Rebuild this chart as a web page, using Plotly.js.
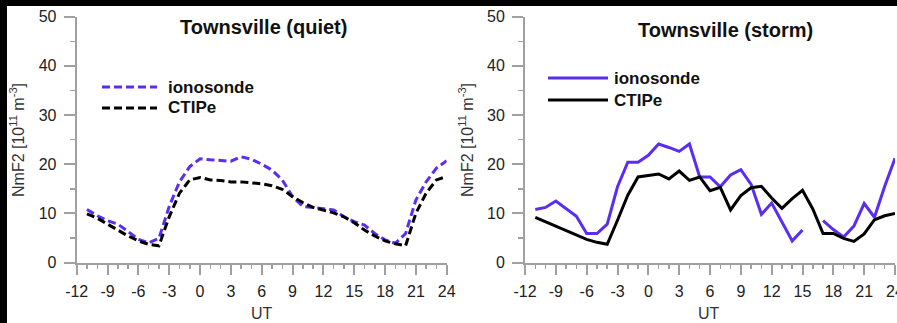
<!DOCTYPE html>
<html><head><meta charset="utf-8">
<script src="https://cdn.plot.ly/plotly-3.0.1.min.js"></script>
<style>html,body{margin:0;padding:0;background:#fff;}#c{width:897px;height:323px;}</style>
</head><body><div id="c"></div>
<script>
const hours = [-11,-10,-9,-8,-7,-6,-5,-4,-3,-2,-1,0,1,2,3,4,5,6,7,8,9,10,11,12,13,14,15,16,17,18,19,20,21,22,23,24];
const quietIono = [10.8,9.5,8.5,7.8,6.3,4.7,4.0,4.9,11.4,16.4,19.5,21.1,20.9,20.8,20.6,21.5,21.0,20.0,18.8,16.8,13.4,11.4,11.2,11.0,10.7,9.3,8.3,7.6,5.9,4.6,3.9,5.9,12.7,16.4,19.2,20.7];
const quietCtipe = [9.9,9.0,7.8,6.6,5.4,4.4,3.7,3.4,9.3,14.1,16.8,17.3,16.8,16.7,16.4,16.4,16.2,16.0,15.6,14.9,13.4,12.2,11.2,10.7,10.1,9.3,8.1,6.6,5.4,4.4,3.8,3.4,10.0,14.1,16.8,17.5];
const stormIono = [10.8,11.2,12.5,11.0,9.4,5.9,5.9,7.8,15.4,20.4,20.4,21.8,24.1,23.4,22.6,24.1,17.4,17.4,15.4,17.8,18.9,15.9,9.8,12.1,8.3,4.4,6.6,null,8.5,6.7,5.2,7.4,12.0,9.2,15.5,21.2];
const stormCtipe = [9.2,8.3,7.4,6.4,5.5,4.7,4.1,3.7,8.6,13.7,17.4,17.7,18.0,17.0,18.6,16.7,17.4,14.6,15.3,10.7,13.6,15.2,15.5,13.1,11.0,13.0,14.7,10.9,5.9,5.9,4.9,4.3,5.8,8.7,9.5,10.0];
const seriesNames = ['ionosonde','CTIPe'];
const panelTitles = ['Townsville (quiet)','Townsville (storm)'];
const xTickVals = [-12,-9,-6,-3,0,3,6,9,12,15,18,21,24];
const yTickVals = [0,10,20,30,40,50];

const purple = '#5a2df2';
const W = 897, H = 323;
const px = v => v / W, py = v => 1 - v / H;
const FONT = 'Liberation Sans, Arial, sans-serif';

const traces = [
  {x: hours, y: quietIono, name: seriesNames[0], xaxis:'x', yaxis:'y', mode:'lines', line:{color:purple, width:3, dash:'8px,4px'}},
  {x: hours, y: quietCtipe, name: seriesNames[1], xaxis:'x', yaxis:'y', mode:'lines', line:{color:'#000', width:3, dash:'8px,4px'}},
  {x: hours, y: stormIono, name: seriesNames[0], xaxis:'x2', yaxis:'y2', mode:'lines', line:{color:purple, width:3}, connectgaps:false},
  {x: hours, y: stormCtipe, name: seriesNames[1], xaxis:'x2', yaxis:'y2', mode:'lines', line:{color:'#000', width:3}}
];

const tickFont = {family:FONT, size:16, color:'#222'};
function xax(domain, anchor){
  return {domain:domain, anchor:anchor, range:[-12,24], tickvals:xTickVals, ticktext:xTickVals.map(String),
    showgrid:false, zeroline:false, showline:true, linecolor:'#a0a0a0', linewidth:2,
    ticks:'outside', ticklen:10, tickwidth:2, tickcolor:'#a0a0a0', tickfont:tickFont, ticklabelstandoff:3,
    minor:{dtick:1, tick0:0, ticks:'outside', ticklen:4, tickwidth:1.5, tickcolor:'#a0a0a0'}};
}
function yax(domain, anchor){
  return {domain:domain, anchor:anchor, range:[0,50], tickvals:yTickVals, ticktext:yTickVals.map(String),
    showgrid:false, zeroline:false, showline:true, linecolor:'#a0a0a0', linewidth:2,
    ticks:'outside', ticklen:11, tickwidth:2, tickcolor:'#a0a0a0', tickfont:tickFont, ticklabelstandoff:4,
    minor:{dtick:5, tick0:0, ticks:'outside', ticklen:5, tickwidth:1.5, tickcolor:'#a0a0a0'}};
}
const ydom = [py(262.5), py(16.7)];
function ann(text, x, y, opts){
  return Object.assign({text:text, xref:'paper', yref:'paper', x:px(x), y:py(y), xanchor:'center', yanchor:'middle', showarrow:false,
    font:{family:FONT, size:16, color:'#222'}}, opts||{});
}
const titleFont = {family:FONT, size:20, color:'#111'};
const legFont = {family:FONT, size:17, color:'#111'};
const layout = {
  width:W, height:H, margin:{l:0,r:0,t:0,b:0}, paper_bgcolor:'#fff', plot_bgcolor:'#fff',
  showlegend:false,
  xaxis: xax([px(76.7), px(446.7)], 'y'),
  yaxis: yax(ydom, 'x'),
  xaxis2: xax([px(525), px(895)], 'y2'),
  yaxis2: yax(ydom, 'x2'),
  shapes: [
    {type:'rect', xref:'paper', yref:'paper', x0:0, x1:px(7), y0:0, y1:1, fillcolor:'#000', line:{width:0}, layer:'above'},
    {type:'rect', xref:'paper', yref:'paper', x0:0, x1:1, y0:py(6), y1:1, fillcolor:'#000', line:{width:0}, layer:'above'},
    {type:'line', xref:'paper', yref:'paper', x0:px(102), x1:px(157), y0:py(87), y1:py(87), line:{color:purple, width:3, dash:'8px,4px'}},
    {type:'line', xref:'paper', yref:'paper', x0:px(102), x1:px(157), y0:py(108), y1:py(108), line:{color:'#000', width:3, dash:'8px,4px'}},
    {type:'line', xref:'paper', yref:'paper', x0:px(548), x1:px(608), y0:py(78), y1:py(78), line:{color:purple, width:3}},
    {type:'line', xref:'paper', yref:'paper', x0:px(548), x1:px(608), y0:py(100), y1:py(100), line:{color:'#000', width:3}}
  ],
  annotations: [
    ann('<b>'+panelTitles[0]+'</b>', 263, 27, {font:titleFont}),
    ann('<b>'+panelTitles[1]+'</b>', 725, 30, {font:titleFont}),
    ann('<b>'+seriesNames[0]+'</b>', 166, 87, {xanchor:'left', font:legFont}),
    ann('<b>'+seriesNames[1]+'</b>', 166, 108, {xanchor:'left', font:legFont}),
    ann('<b>'+seriesNames[0]+'</b>', 612, 78, {xanchor:'left', font:legFont}),
    ann('<b>'+seriesNames[1]+'</b>', 612, 100, {xanchor:'left', font:legFont}),
    ann('NmF2 [10<sup>11</sup> m<sup>-3</sup>]', 17, 140, {textangle:-90, font:{family:FONT, size:16, color:'#333'}}),
    ann('NmF2 [10<sup>11</sup> m<sup>-3</sup>]', 466, 140, {textangle:-90, font:{family:FONT, size:16, color:'#333'}}),
    ann('UT', 262, 313, {font:{family:FONT, size:16, color:'#333'}}),
    ann('UT', 709, 313, {font:{family:FONT, size:16, color:'#333'}}),
    {text:String(xTickVals[xTickVals.length-1]), xref:'x2', yref:'paper', x:24, y:py(291), xanchor:'center', yanchor:'middle', showarrow:false, font:tickFont}
  ]
};
Plotly.newPlot('c', traces, layout, {displayModeBar:false, staticPlot:true});
</script></body></html>
